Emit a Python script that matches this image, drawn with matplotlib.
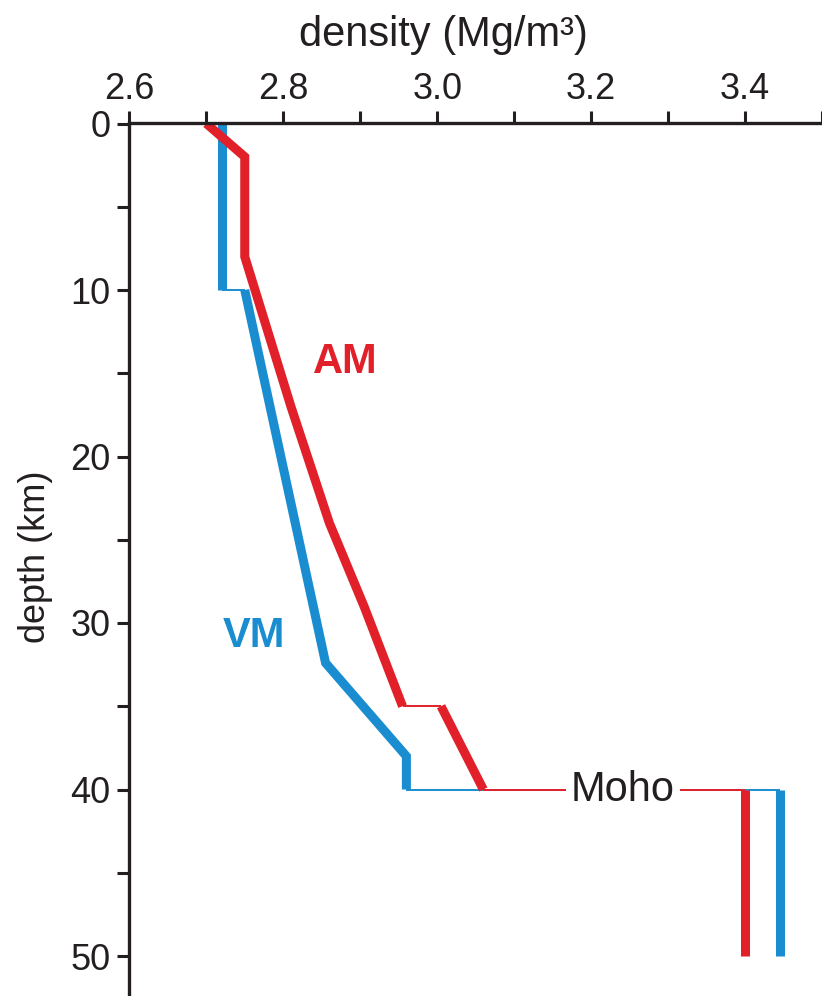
import matplotlib
matplotlib.use('Agg')
import matplotlib.pyplot as plt

# AM profile (red): thick pieces and thin step lines
am_upper_rho = [2.70, 2.75, 2.75, 2.81, 2.86, 2.905, 2.955]
am_upper_z = [0, 2, 8, 17, 24, 29, 35]
am_mid_rho = [3.005, 3.06]
am_mid_z = [35, 40]
am_mantle_rho = [3.40, 3.40]
am_mantle_z = [40, 50]
am_steps = [([2.955, 3.005], 35), ([3.06, 3.40], 40)]

# VM profile (blue)
vm_upper_rho = [2.72, 2.72]
vm_upper_z = [0, 10]
vm_mid_rho = [2.75, 2.855, 2.96, 2.96]
vm_mid_z = [10, 32.4, 38, 40]
vm_mantle_rho = [3.445, 3.445]
vm_mantle_z = [40, 50]
vm_steps = [([2.72, 2.75], 10), ([2.96, 3.445], 40)]

x_ticks = [2.6, 2.8, 3.0, 3.2, 3.4]
y_ticks = [0, 10, 20, 30, 40, 50]

RED = '#E2202A'
BLUE = '#1A8DD0'
INK = '#231F20'

plt.rcParams['font.family'] = ['Liberation Sans', 'DejaVu Sans']

fig = plt.figure(figsize=(8.22, 9.96), dpi=100)
W, H = 822, 996
x0, y0 = 129.3, 123.5
ax = fig.add_axes([x0 / W, 0, 1 - x0 / W, 1 - y0 / H])

thick = dict(lw=6.5, solid_capstyle='butt', solid_joinstyle='miter', zorder=2)
thin = dict(lw=1.4, solid_capstyle='butt', zorder=1)

# thin step lines (blue under red)
for rho, z in vm_steps:
    ax.plot(rho, [z, z], color=BLUE, **thin)
for rho, z in am_steps:
    ax.plot(rho, [z, z], color=RED, **thin)

for rho, z in [(vm_upper_rho, vm_upper_z), (vm_mid_rho, vm_mid_z),
               (vm_mantle_rho, vm_mantle_z)]:
    ax.plot(rho, z, color=BLUE, **thick)
for rho, z in [(am_upper_rho, am_upper_z), (am_mid_rho, am_mid_z),
               (am_mantle_rho, am_mantle_z)]:
    ax.plot(rho, z, color=RED, **thick)

ax.text(2.88, 14.35, 'AM', color=RED, fontsize=30, fontweight='bold',
        ha='center', va='center')
ax.text(2.762, 30.8, 'VM', color=BLUE, fontsize=30, fontweight='bold',
        ha='center', va='center')
ax.text(3.2411, 40.0, 'Moho', color=INK, fontsize=30, ha='center',
        va='center', zorder=3,
        bbox=dict(boxstyle='square,pad=0.12', fc='white', ec='none'))

ax.set_xlim(2.6, 2.6 + (W - x0) / 770)
ax.set_ylim((H - y0) / 16.65, 0)

ax.xaxis.tick_top()
ax.set_xticks(x_ticks)
ax.set_xticks([2.7, 2.9, 3.1, 3.3, 3.5], minor=True)
ax.set_xticklabels([f'{v:.1f}' for v in x_ticks])
ax.set_yticks(y_ticks)
ax.set_yticks([5, 15, 25, 35, 45], minor=True)

for which in ('major', 'minor'):
    ax.tick_params(axis='both', which=which, direction='out', length=8.6,
                   width=2.2, color=INK)
ax.tick_params(axis='x', which='major', labelsize=26, pad=3, labelcolor=INK)
ax.tick_params(axis='y', which='major', labelsize=26, pad=5, labelcolor=INK)

for side in ('right', 'bottom'):
    ax.spines[side].set_visible(False)
for side in ('top', 'left'):
    ax.spines[side].set_linewidth(2.4)
    ax.spines[side].set_color(INK)

ax.xaxis.set_label_position('top')
ax.set_xlabel('density (Mg/m³)', fontsize=30, color=INK)
ax.xaxis.set_label_coords(0.453, 1.089)
ax.set_ylabel('depth (km)', fontsize=26, color=INK)
ax.yaxis.set_label_coords(-0.11, 0.503)

fig.savefig('out.png', dpi=100)
